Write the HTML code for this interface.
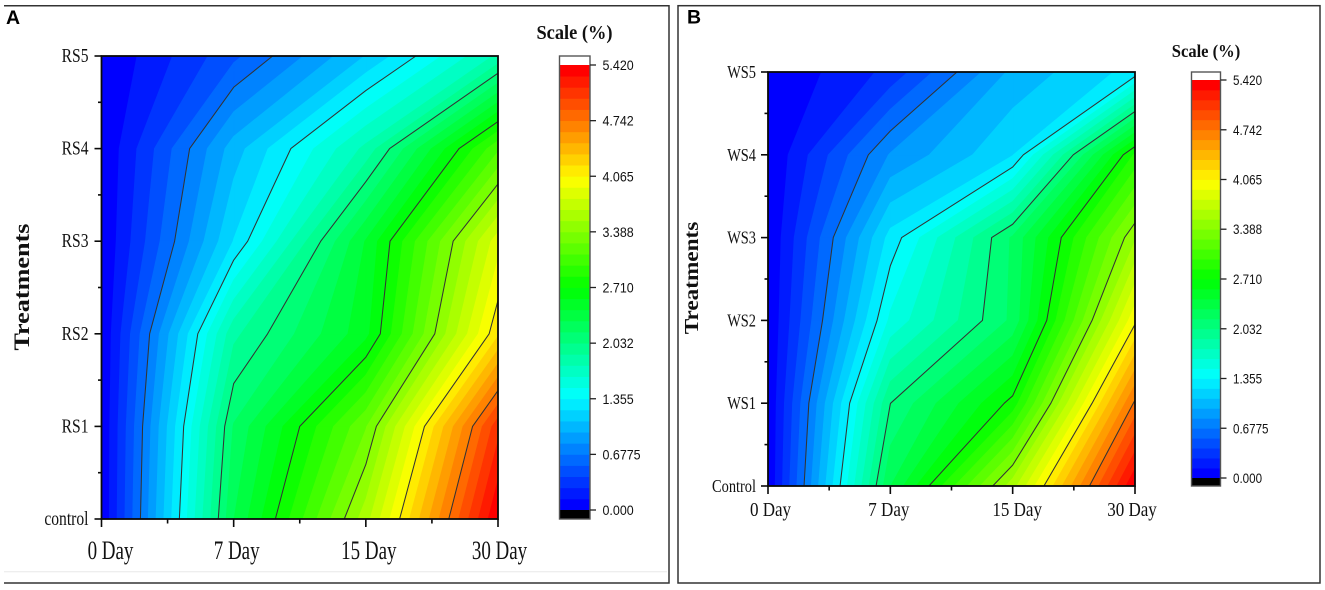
<!DOCTYPE html>
<html lang="en">
<head>
<meta charset="utf-8">
<title>Contour charts of scale percentage by treatment and day</title>
<style>
  html, body { margin: 0; padding: 0; background: #fff; }
  #figure { display: block; width: 1325px; height: 590px; }
</style>
</head>
<body>
<svg id="figure" xmlns="http://www.w3.org/2000/svg" width="1325" height="590" viewBox="0 0 1325 590">
  <rect x="0" y="0" width="1325" height="590" fill="#fff"/>
  <path d="M4 5.7H669V583H4" fill="none" stroke="#333" stroke-width="1.5"/>
  <line x1="4" x2="667" y1="571.7" y2="571.7" stroke="#e8e8e8" stroke-width="1"/>
  <rect x="678" y="5.7" width="642" height="577.3" fill="none" stroke="#333" stroke-width="1.5"/>
  <text x="6" y="24" font-family="'Liberation Sans', sans-serif" font-weight="700" font-size="19.5">A</text>
  <text x="687" y="23.5" font-family="'Liberation Sans', sans-serif" font-weight="700" font-size="19.5">B</text>
  <g id="panel-a"></g>
  <g id="panel-b"></g>
</svg>
<script>
// Shared axis data
const dayLabels = ['0 Day', '7 Day', '15 Day', '30 Day'];
const scaleTickLabels = ['0.000', '0.6775', '1.355', '2.032', '2.710', '3.388', '4.065', '4.742', '5.420'];
const contourLevels = [0.6775, 1.355, 2.032, 2.71, 3.388, 4.065, 4.742];
const scaleMax = 5.42;
const bandCount = 40;

// Panel A: treatments bottom to top, values at 0, 7, 15, 30 days
const treatmentsA = ['control', 'RS1', 'RS2', 'RS3', 'RS4', 'RS5'];
const controlA = [0, 2.30, 3.6, 5.42];
const rs1 = [0, 2.18, 3.24, 5.1];
const rs2 = [0, 1.86, 2.53, 4.175];
const rs3 = [0, 1.225, 2.45, 3.87];
const rs4 = [0, 1.016, 1.80, 3.09];
const rs5 = [0, 0.505, 1.09, 1.79];

// Panel B: treatments bottom to top, values at 0, 7, 15, 30 days
const treatmentsB = ['Control', 'WS1', 'WS2', 'WS3', 'WS4', 'WS5'];
const controlB = [0, 2.30, 3.6, 5.42];
const ws1 = [0, 2.03, 2.76, 4.77];
const ws2 = [0, 1.52, 2.2, 4.03];
const ws3 = [0, 1.27, 2.19, 3.5];
const ws4 = [0, 0.826, 1.21, 2.87];
const ws5 = [0, 0.31, 0.985, 1.27];

const gridA = [controlA, rs1, rs2, rs3, rs4, rs5];
const gridB = [controlB, ws1, ws2, ws3, ws4, ws5];

const SVG_NS = 'http://www.w3.org/2000/svg';
const SERIF = "'Liberation Serif', serif";
const SANS = "'Liberation Sans', sans-serif";

function bandColor(i) {
  const t = i / (bandCount - 1) * 4;
  const seg = Math.min(3, Math.floor(t));
  const f = t - seg;
  const v = Math.round(255 * f);
  const w = 255 - v;
  if (seg === 0) return 'rgb(0,' + v + ',255)';
  if (seg === 1) return 'rgb(0,255,' + w + ')';
  if (seg === 2) return 'rgb(' + v + ',255,0)';
  return 'rgb(255,' + w + ',0)';
}

function make(parent, tag, attrs) {
  const node = document.createElementNS(SVG_NS, tag);
  for (const k in attrs) node.setAttribute(k, attrs[k]);
  parent.appendChild(node);
  return node;
}

function label(parent, str, x, y, size, family, anchor, sx, weight, name) {
  const t = make(parent, 'text', {
    transform: 'translate(' + x + ',' + y + ') scale(' + sx + ',1)',
    'font-family': family, 'font-size': size, 'text-anchor': anchor,
    'font-weight': weight, fill: '#111'
  });
  t.textContent = str;
  
  
  return t;
}

// Clip a polygon of [x, y, z] points to z >= lev (sign=1) or z <= lev (sign=-1)
function clipPoly(poly, lev, sign) {
  const out = [];
  for (let i = 0; i < poly.length; i++) {
    const a = poly[i], b = poly[(i + 1) % poly.length];
    const ina = sign * (a[2] - lev) >= 0, inb = sign * (b[2] - lev) >= 0;
    if (ina) out.push(a);
    if (ina !== inb) {
      const f = (lev - a[2]) / (b[2] - a[2]);
      out.push([a[0] + f * (b[0] - a[0]), a[1] + f * (b[1] - a[1]), lev]);
    }
  }
  return out;
}

function drawPanel(root, grid, rowNames, cfg) {
  const nRows = grid.length, nCols = grid[0].length;
  const xAxis = i => cfg.left + i * (cfg.right - cfg.left) / (nCols - 1);
  const yAxis = j => cfg.bottom - j * (cfg.bottom - cfg.top) / (nRows - 1);
  const scaleAxis = v => cfg.barZero - v / scaleMax * (cfg.barZero - cfg.barMax);

  // Quadrilateral cells from the value grid
  const cells = [];
  for (let j = 0; j < nRows - 1; j++) {
    for (let i = 0; i < nCols - 1; i++) {
      cells.push([
        [xAxis(i), yAxis(j), grid[j][i]],
        [xAxis(i + 1), yAxis(j), grid[j][i + 1]],
        [xAxis(i + 1), yAxis(j + 1), grid[j + 1][i + 1]],
        [xAxis(i), yAxis(j + 1), grid[j + 1][i]]
      ]);
    }
  }

  // Filled colour bands
  const bands = make(root, 'g', {});
  
  
  const step = scaleMax / bandCount;
  for (let b = 0; b < bandCount; b++) {
    const lo = b === 0 ? -1 : b * step;
    const hi = b === bandCount - 1 ? 99 : (b + 1) * step;
    const col = bandColor(b);
    let d = '';
    cells.forEach(cell => {
      const poly = clipPoly(clipPoly(cell, lo, 1), hi, -1);
      if (poly.length >= 3) {
        d += 'M' + poly.map(p => p[0].toFixed(2) + ' ' + p[1].toFixed(2)).join('L') + 'Z';
      }
    });
    if (d) {
      const band = make(bands, 'path', { d: d, fill: col, stroke: col, 'stroke-width': 0.7, 'stroke-linejoin': 'round' });
      
      
    }
  }

  // Contour lines: straight segments between crossings on each cell's edges
  const lines = make(root, 'g', { stroke: '#333', 'stroke-width': 1.05, fill: 'none', 'stroke-linecap': 'round', 'stroke-linejoin': 'round' });
  
  
  contourLevels.forEach(lev => {
    let d = '';
    cells.forEach(cell => {
      const pts = [];
      for (let k = 0; k < 4; k++) {
        const a = cell[k], b = cell[(k + 1) % 4];
        if ((a[2] >= lev) !== (b[2] >= lev)) {
          const f = (lev - a[2]) / (b[2] - a[2]);
          pts.push([a[0] + f * (b[0] - a[0]), a[1] + f * (b[1] - a[1])]);
        }
      }
      for (let p = 0; p + 1 < pts.length; p += 2) {
        d += 'M' + pts[p][0].toFixed(2) + ' ' + pts[p][1].toFixed(2) + 'L' + pts[p + 1][0].toFixed(2) + ' ' + pts[p + 1][1].toFixed(2);
      }
    });
    const line = make(lines, 'path', { d: d });
    
    
  });

  // Plot frame
  const frame = make(root, 'rect', {
    x: cfg.left, y: cfg.top, width: cfg.right - cfg.left, height: cfg.bottom - cfg.top,
    fill: 'none', stroke: '#0a0a0a', 'stroke-width': 1.8
  });
  
  

  // Y axis
  const yTicks = make(root, 'g', { stroke: '#0a0a0a', 'stroke-width': 1.6 });
  
  
  rowNames.forEach((name, j) => {
    const y = yAxis(j);
    const tick = make(yTicks, 'line', { x1: cfg.left - 7, x2: cfg.left, y1: y, y2: y });
    
    
    label(root, name, cfg.left - cfg.yLabelGap, y + cfg.yBase, cfg.yFont, SERIF, 'end', cfg.yScale, 400, 'y-tick-label');
    if (j < rowNames.length - 1) {
      const minor = make(yTicks, 'line', { x1: cfg.left - 3.5, x2: cfg.left, y1: yAxis(j + 0.5), y2: yAxis(j + 0.5) });
      
      
    }
  });

  // X axis
  const xTicks = make(root, 'g', { stroke: '#0a0a0a', 'stroke-width': 1.6 });
  
  
  dayLabels.forEach((name, i) => {
    const x = xAxis(i);
    const tick = make(xTicks, 'line', { x1: x, x2: x, y1: cfg.bottom, y2: cfg.bottom + 8 });
    
    
    label(root, name, x + cfg.xLabelDx[i], cfg.xBase, cfg.xFont, SERIF, 'middle', cfg.xScale, 400, 'x-tick-label');
    if (i < dayLabels.length - 1) {
      const mx = xAxis(i + 0.5);
      const minor = make(xTicks, 'line', { x1: mx, x2: mx, y1: cfg.bottom, y2: cfg.bottom + 4.5 });
      
      
    }
  });

  // Axis title
  const title = make(root, 'text', {
    transform: 'translate(' + cfg.titleX + ',' + cfg.titleY + ') rotate(-90) scale(' + cfg.titleScale + ',1)',
    'font-family': SERIF, 'font-size': cfg.titleFont, 'font-weight': 700, 'text-anchor': 'middle', fill: '#111'
  });
  title.textContent = 'Treatments';
  
  

  // Colour scale
  const bar = make(root, 'g', {});
  
  
  const barW = cfg.barRight - cfg.barLeft;
  const over = make(bar, 'rect', { x: cfg.barLeft, y: cfg.top, width: barW, height: cfg.barMax - cfg.top, fill: '#fff' });
  
  
  for (let b = 0; b < bandCount; b++) {
    const yTop = scaleAxis((b + 1) * step), yBot = scaleAxis(b * step);
    const swatch = make(bar, 'rect', { x: cfg.barLeft, y: yTop, width: barW, height: yBot - yTop + 0.4, fill: bandColor(b) });
    
    
  }
  const under = make(bar, 'rect', { x: cfg.barLeft, y: cfg.barZero, width: barW, height: cfg.bottom - cfg.barZero, fill: '#000' });
  
  
  const border = make(bar, 'rect', { x: cfg.barLeft, y: cfg.top, width: barW, height: cfg.bottom - cfg.top, fill: 'none', stroke: '#555', 'stroke-width': 1.4 });
  
  
  scaleTickLabels.forEach(str => {
    const y = scaleAxis(parseFloat(str));
    const tick = make(bar, 'line', { x1: cfg.barRight, x2: cfg.barRight + 6, y1: y, y2: y, stroke: '#222', 'stroke-width': 1.3 });
    
    
    label(bar, str, cfg.barRight + 12.5, y + 5, cfg.barFont, SANS, 'start', cfg.barScale, 400, 'scale-tick-label');
  });
  label(root, 'Scale (%)', cfg.scaleTitleX, cfg.scaleTitleY, cfg.scaleTitleFont, SERIF, 'middle', 0.92, 700, 'scale-title');
}

drawPanel(document.getElementById('panel-a'), gridA, treatmentsA, {
  id: 'panel-a', left: 101.5, right: 498, top: 56, bottom: 519,
  yLabelGap: 13, yBase: 6, yFont: 20, yScale: 0.78,
  xFont: 26, xScale: 0.73, xBase: 559, xLabelDx: [9, 3, 3, 1.5],
  titleX: 29, titleY: 287, titleFont: 22, titleScale: 1.19,
  barLeft: 559.5, barRight: 590, barMax: 65, barZero: 510, barFont: 14, barScale: 0.89,
  scaleTitleX: 574.5, scaleTitleY: 39, scaleTitleFont: 20
});

drawPanel(document.getElementById('panel-b'), gridB, treatmentsB, {
  id: 'panel-b', left: 768, right: 1135, top: 72, bottom: 486,
  yLabelGap: 12, yBase: 6, yFont: 18, yScale: 0.8,
  xFont: 20.5, xScale: 0.83, xBase: 516, xLabelDx: [2.5, -1.5, 4.5, -3],
  titleX: 698, titleY: 278, titleFont: 20, titleScale: 1.16,
  barLeft: 1191.5, barRight: 1220.5, barMax: 80, barZero: 478, barFont: 13.5, barScale: 0.86,
  scaleTitleX: 1206, scaleTitleY: 57, scaleTitleFont: 18
});
</script>
</body>
</html>
